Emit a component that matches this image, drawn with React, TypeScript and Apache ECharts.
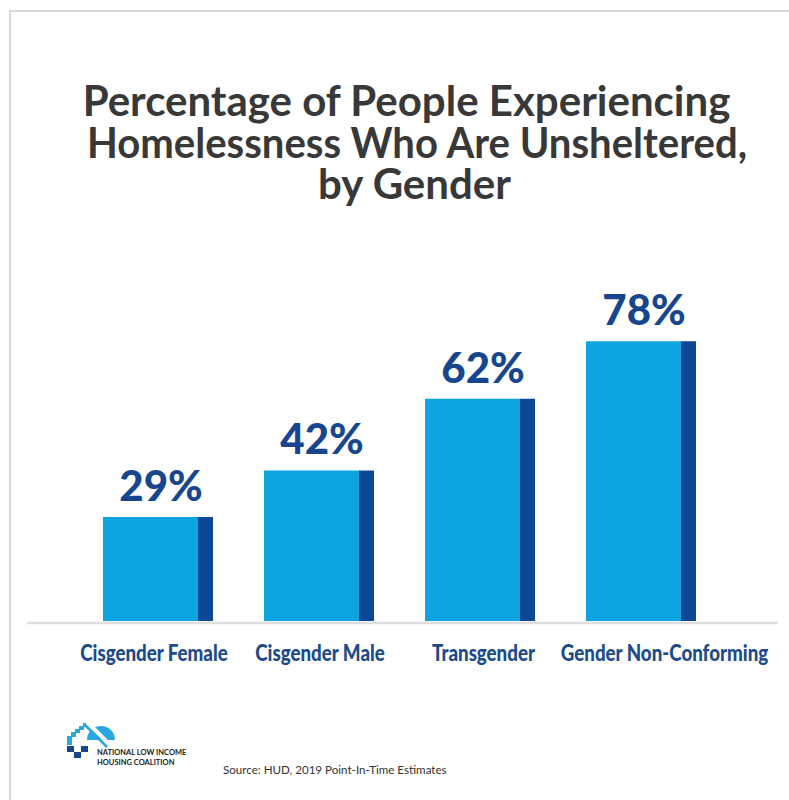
import React, { useEffect, useRef } from "react";
import * as echarts from "echarts";

const categories = ["Cisgender Female", "Cisgender Male", "Transgender", "Gender Non-Conforming"];
const values = [29, 42, 62, 78];
const labelShift = [-4, 1, 3.5, 23.5];
const titleLines = [
  "Percentage of People Experiencing",
  "Homelessness Who Are Unsheltered,",
  "by Gender",
];
const sourceText = "Source: HUD, 2019 Point-In-Time Estimates";
const orgLines = ["NATIONAL LOW INCOME", "HOUSING COALITION"];

const LIGHT = "#0da4e1";
const DARK = "#0b4896";
const NAVY = "#17468e";
const SKY = "#29a8e0";

const titleCenters = [406.5, 417, 414.5];
const titleScale = [1.0, 0.955, 1.0];
const CAT_FONT = "900 22px Lato";
const CAT_REF_WIDTH = 148; // width of the first category label in the reference

export default function App() {
  const ref = useRef<HTMLDivElement>(null);
  useEffect(() => {
    const chart = echarts.init(ref.current!, null, { renderer: "svg" });
    const barColor = new echarts.graphic.LinearGradient(0, 0, 1, 0, [
      { offset: 0, color: LIGHT },
      { offset: 0.864, color: LIGHT },
      { offset: 0.864, color: DARK },
      { offset: 1, color: DARK },
    ]);
    chart.setOption({
      animation: false,
      backgroundColor: "#ffffff",
      grid: { left: 77.5, right: 67.5, top: 262.4, bottom: 179 },
      xAxis: {
        type: "category",
        data: categories,
        axisLine: { show: false },
        axisTick: { show: false },
        axisLabel: { show: false },
      },
      yAxis: {
        type: "value",
        min: 0,
        max: 100,
        show: false,
        splitLine: { show: false },
      },
      series: [
        {
          type: "bar",
          data: values,
          barWidth: 110,
          itemStyle: { color: barColor },
          label: {
            show: true,
            position: "top",
            distance: 11,
            offset: [3, 0],
            formatter: "{c}%",
            fontFamily: "Lato",
            fontWeight: 900,
            fontSize: 42,
            color: NAVY,
          },
        },
      ],
    });

    let catScale = 0.75;
    const ctx = document.createElement("canvas").getContext("2d");
    if (ctx) {
      ctx.font = CAT_FONT;
      const w = ctx.measureText(categories[0]).width;
      if (w > 0) catScale = CAT_REF_WIDTH / w;
    }

    const catLabels = categories.map((c, i) => {
      const px = chart.convertToPixel({ xAxisIndex: 0 }, c) as number;
      return {
        type: "text",
        x: px + labelShift[i],
        y: 652.5,
        scaleX: catScale,
        style: {
          text: c,
          textAlign: "center",
          textVerticalAlign: "middle",
          fontFamily: "Lato",
          fontWeight: 900,
          fontSize: 22,
          fill: "#1c4a8a",
        },
      };
    });

    const titles = titleLines.map((t, i) => ({
      type: "text",
      x: titleCenters[i],
      y: 100 + i * 41.5,
      scaleX: titleScale[i],
      style: {
        text: t,
        textAlign: "center",
        textVerticalAlign: "middle",
        fontFamily: "Lato",
        fontWeight: 700,
        fontSize: 42,
        fill: "#383838",
      },
    }));

    chart.setOption({
      graphic: [
        ...titles,
        ...catLabels,
        { type: "line", shape: { x1: 9, y1: 11, x2: 789, y2: 11 }, style: { stroke: "#d9d9d9", lineWidth: 2 } },
        { type: "line", shape: { x1: 10, y1: 11, x2: 10, y2: 800 }, style: { stroke: "#d9d9d9", lineWidth: 2 } },
        { type: "line", z: 0, shape: { x1: 27, y1: 623, x2: 778, y2: 623 }, style: { stroke: "#dedede", lineWidth: 2.5 } },
        // logo
        { type: "sector", shape: { cx: 101, cy: 740, r0: 0, r: 14, startAngle: Math.PI, endAngle: 2 * Math.PI }, style: { fill: SKY } },
        { type: "line", shape: { x1: 86, y1: 721, x2: 112, y2: 747 }, style: { stroke: "#ffffff", lineWidth: 4 } },
        { type: "line", shape: { x1: 84, y1: 724, x2: 107, y2: 747 }, style: { stroke: SKY, lineWidth: 2.5 } },
        { type: "rect", shape: { x: 67, y: 736, width: 5, height: 9 }, style: { fill: SKY } },
        { type: "rect", shape: { x: 71, y: 732, width: 5, height: 5 }, style: { fill: SKY } },
        { type: "rect", shape: { x: 75, y: 729, width: 5, height: 4 }, style: { fill: SKY } },
        { type: "rect", shape: { x: 79, y: 726, width: 5, height: 4 }, style: { fill: SKY } },
        { type: "rect", shape: { x: 83, y: 723, width: 3, height: 4 }, style: { fill: SKY } },
        { type: "rect", shape: { x: 67, y: 746, width: 7, height: 6 }, style: { fill: NAVY } },
        { type: "rect", shape: { x: 74, y: 752, width: 7, height: 6 }, style: { fill: NAVY } },
        { type: "rect", shape: { x: 81, y: 746, width: 7, height: 6 }, style: { fill: NAVY } },
        {
          type: "text",
          x: 97,
          y: 748,
          style: {
            text: orgLines.join("\n"),
            fontFamily: "Lato",
            fontWeight: 700,
            fontSize: 7.5,
            lineHeight: 9.5,
            fill: "#222222",
          },
        },
        {
          type: "text",
          x: 223,
          y: 763,
          style: {
            text: sourceText,
            fontFamily: "Lato",
            fontSize: 11.6,
            fill: "#333333",
          },
        },
      ],
    });
    return () => chart.dispose();
  }, []);
  return (
    <div
      ref={ref}
      style={{ position: "fixed", left: 0, top: 0, width: 789, height: 800, background: "#fff" }}
    />
  );
}
